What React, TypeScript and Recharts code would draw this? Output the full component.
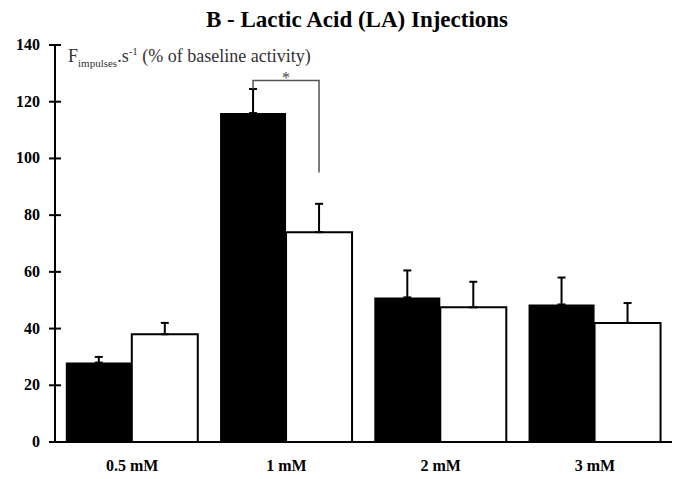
import { BarChart, Bar, XAxis, YAxis, ErrorBar } from 'recharts';

const doses = ['0.5 mM', '1 mM', '2 mM', '3 mM'];
const blackMeans = [28, 116, 51, 48.5];
const blackErr = [2, 8.5, 9.5, 9.5];
const whiteMeans = [38, 74, 47.5, 42];
const whiteErr = [4, 10, 9, 7];
const yTicks = [0, 20, 40, 60, 80, 100, 120, 140];

// significance bracket between the two 1 mM bars (data units)
const bracketTop = 127.5;
const bracketRightEnd = 95;
const bracketLeftEnd = 124.5;

const SERIF = '"Liberation Serif", "Times New Roman", serif';

const data = doses.map((dose, i) => ({
  dose,
  black: blackMeans[i],
  blackErr: [0, blackErr[i]],
  white: whiteMeans[i],
  whiteErr: [0, whiteErr[i]],
}));

const YTick = (props: any) => {
  const { x, y, payload } = props;
  return (
    <g>
      <line x1={x - 6} x2={x + 6} y1={y} y2={y} stroke="#000" strokeWidth={2} />
      <text
        x={x - 15}
        y={y}
        dy={5}
        textAnchor="end"
        fontFamily={SERIF}
        fontWeight="bold"
        fontSize={16}
        fill="#000"
      >
        {payload.value}
      </text>
    </g>
  );
};

const Bracket = (props: any) => {
  const { x, y, width, height, value, index } = props;
  if (!(index === 1 || value === blackMeans[1])) return null;
  const ppu = height / value;
  const base = y + height;
  const xl = x + width / 2;
  const xr = x + width * 1.5;
  const yt = base - bracketTop * ppu;
  return (
    <g>
      <polyline
        points={`${xl},${base - bracketLeftEnd * ppu} ${xl},${yt} ${xr},${yt} ${xr},${base - bracketRightEnd * ppu}`}
        fill="none"
        stroke="#555"
        strokeWidth={1.5}
      />
      <text x={(xl + xr) / 2} y={yt + 3} textAnchor="middle" fontFamily={SERIF} fontSize={16} fill="#444">
        *
      </text>
    </g>
  );
};

export default function App() {
  return (
    <div
      style={{
        position: 'absolute',
        left: 0,
        top: 0,
        width: 677,
        height: 479,
        background: '#fff',
        fontFamily: SERIF,
        overflow: 'hidden',
      }}
    >
      <div
        style={{
          position: 'absolute',
          top: 7,
          left: 0,
          width: 714,
          textAlign: 'center',
          fontWeight: 'bold',
          fontSize: 23,
          color: '#000',
          whiteSpace: 'nowrap',
        }}
      >
        B - Lactic Acid (LA) Injections
      </div>
      <div
        style={{
          position: 'absolute',
          left: 68,
          top: 46,
          fontSize: 18,
          lineHeight: '20px',
          color: '#333',
          whiteSpace: 'nowrap',
          zIndex: 1,
        }}
      >
        F<sub style={{ fontSize: 11, lineHeight: 0 }}>impulses</sub>.s
        <sup style={{ fontSize: 11, lineHeight: 0 }}>-1</sup> (% of baseline activity)
      </div>
      <BarChart
        width={677}
        height={479}
        data={data}
        margin={{ top: 45, right: 5, bottom: 7, left: 0 }}
        barCategoryGap="7%"
        barGap={0}
      >
        <XAxis
          dataKey="dose"
          axisLine={{ stroke: '#000', strokeWidth: 2 }}
          tickLine={false}
          tickSize={0}
          tickMargin={18}
          height={30}
          tick={{ fill: '#000', fontFamily: SERIF, fontWeight: 'bold', fontSize: 16 }}
        />
        <YAxis
          width={55}
          domain={[0, 140]}
          ticks={yTicks}
          interval={0}
          axisLine={{ stroke: '#000', strokeWidth: 2 }}
          tickLine={false}
          tickSize={0}
          tickMargin={0}
          tick={<YTick />}
        />
        <Bar dataKey="black" fill="#000" isAnimationActive={false} label={<Bracket />}>
          <ErrorBar dataKey="blackErr" stroke="#000" strokeWidth={2} width={4} />
        </Bar>
        <Bar dataKey="white" fill="#fff" stroke="#000" strokeWidth={2} isAnimationActive={false}>
          <ErrorBar dataKey="whiteErr" stroke="#000" strokeWidth={2} width={4} />
        </Bar>
      </BarChart>
    </div>
  );
}
